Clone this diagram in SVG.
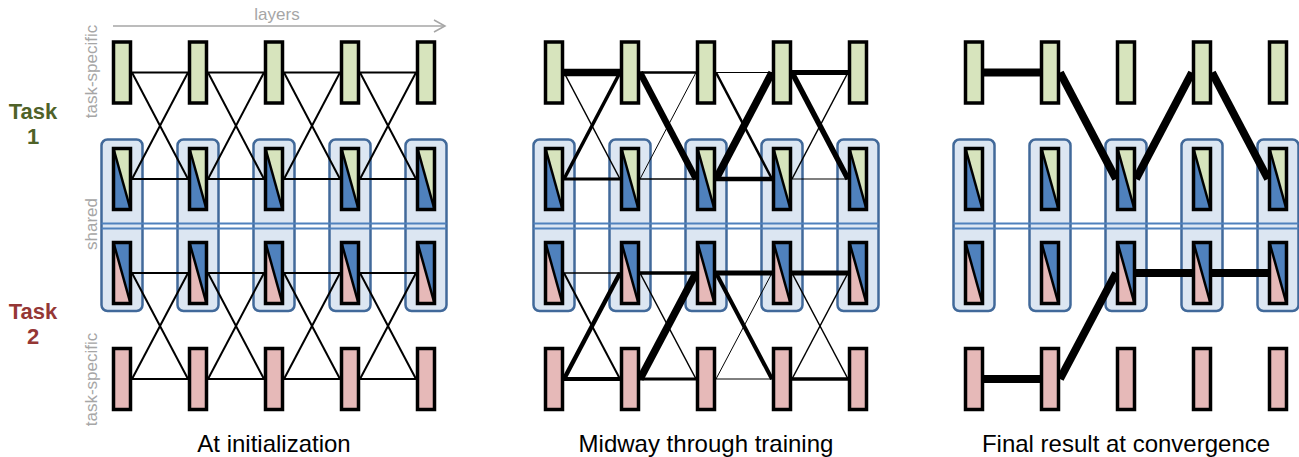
<svg xmlns="http://www.w3.org/2000/svg" width="1299" height="457" viewBox="0 0 1299 457">
  <style>
    .lbl { font-family: "Liberation Sans", Arial, sans-serif; fill: #A6A6A6; font-size: 17px; }
    .task { font-family: "Liberation Sans", Arial, sans-serif; font-weight: bold; font-size: 22px; text-anchor: middle; }
    .cap { font-family: "Liberation Sans", Arial, sans-serif; font-size: 24px; fill: #000; text-anchor: middle; }
    .box { fill: #DCE6F2; stroke: #41699A; stroke-width: 2.5; }
    .split { stroke: #4F81BD; stroke-width: 1.8; fill: none; }
    .edge { stroke: #000; fill: none; stroke-linecap: butt; }
    .p1 .edge { stroke-width: 2; }
    .p3 .edge { stroke-width: 8; }
    .outline { fill: none; stroke: #000; stroke-width: 3.5; }
  </style>
  <defs>
    <!-- task-specific layer blocks -->
    <g id="specGreen">
      <rect x="-8.5" y="-30.5" width="17" height="61" fill="#D7E4BD" stroke="#000" stroke-width="3.5"/>
    </g>
    <g id="specPink">
      <rect x="-8.5" y="-30.5" width="17" height="61" fill="#E6B9B8" stroke="#000" stroke-width="3.5"/>
    </g>
    <!-- shared layer blocks: task colour in the upper-right half, shared blue in the lower-left -->
    <g id="sharedGreen">
      <polygon points="-8.5,-30.5 -8.5,30.5 8.5,30.5" fill="#4F81BD"/>
      <polygon points="-8.5,-30.5 8.5,-30.5 8.5,30.5" fill="#D7E4BD"/>
      <line x1="-8.5" y1="-30.5" x2="8.5" y2="30.5" stroke="#000" stroke-width="2.5"/>
      <rect class="outline" x="-8.5" y="-30.5" width="17" height="61"/>
    </g>
    <g id="sharedPink">
      <polygon points="-8.5,-30.5 -8.5,30.5 8.5,30.5" fill="#E6B9B8"/>
      <polygon points="-8.5,-30.5 8.5,-30.5 8.5,30.5" fill="#4F81BD"/>
      <line x1="-8.5" y1="-30.5" x2="8.5" y2="30.5" stroke="#000" stroke-width="2.5"/>
      <rect class="outline" x="-8.5" y="-30.5" width="17" height="61"/>
    </g>
    <rect id="column" class="box" x="-20.5" y="139.5" width="41" height="171.5" rx="6"/>
  </defs>

  <!-- axis and side labels -->
  <g id="labels">
    <text class="lbl" x="277" y="20" text-anchor="middle">layers</text>
    <g stroke="#A6A6A6" stroke-width="1.5" fill="none">
      <line x1="113" y1="26" x2="444" y2="26"/>
      <polyline points="434,20 445,26 434,32"/>
    </g>
    <text class="lbl" text-anchor="middle" transform="translate(97,71.5) rotate(-90)">task-specific</text>
    <text class="lbl" text-anchor="middle" transform="translate(97,224) rotate(-90)">shared</text>
    <text class="lbl" text-anchor="middle" transform="translate(97,379.5) rotate(-90)">task-specific</text>
    <text class="task" fill="#4F6228"><tspan x="33" y="118.5">Task</tspan><tspan x="33" y="143.5">1</tspan></text>
    <text class="task" fill="#953735"><tspan x="33" y="318.5">Task</tspan><tspan x="33" y="344">2</tspan></text>
    <text class="cap" x="274" y="452">At initialization</text>
    <text class="cap" x="706" y="452">Midway through training</text>
    <text class="cap" x="1126" y="452">Final result at convergence</text>
  </g>

  <!-- shared columns with the split between the two task halves -->
  <g id="shared-columns">
    <use href="#column" x="122"/><use href="#column" x="198"/><use href="#column" x="274"/><use href="#column" x="350"/><use href="#column" x="426"/>
    <use href="#column" x="554"/><use href="#column" x="630"/><use href="#column" x="706"/><use href="#column" x="782"/><use href="#column" x="858"/>
    <use href="#column" x="974"/><use href="#column" x="1050"/><use href="#column" x="1126"/><use href="#column" x="1202"/><use href="#column" x="1278"/>
    <path class="split" d="M101.5 223.5H446.5M101.5 228.5H446.5"/>
    <path class="split" d="M533.5 223.5H878.5M533.5 228.5H878.5"/>
    <path class="split" d="M953.5 223.5H1298.5M953.5 228.5H1298.5"/>
  </g>

  <!-- connectors -->
  <g id="connectors">
    <g class="p1">
      <!-- task 1 -->
      <line class="edge" x1="132" y1="72.5" x2="188" y2="72.5"/><line class="edge" x1="132" y1="72.5" x2="188" y2="179"/><line class="edge" x1="132" y1="179" x2="188" y2="72.5"/><line class="edge" x1="132" y1="179" x2="188" y2="179"/>
      <line class="edge" x1="208" y1="72.5" x2="264" y2="72.5"/><line class="edge" x1="208" y1="72.5" x2="264" y2="179"/><line class="edge" x1="208" y1="179" x2="264" y2="72.5"/><line class="edge" x1="208" y1="179" x2="264" y2="179"/>
      <line class="edge" x1="284" y1="72.5" x2="340" y2="72.5"/><line class="edge" x1="284" y1="72.5" x2="340" y2="179"/><line class="edge" x1="284" y1="179" x2="340" y2="72.5"/><line class="edge" x1="284" y1="179" x2="340" y2="179"/>
      <line class="edge" x1="360" y1="72.5" x2="416" y2="72.5"/><line class="edge" x1="360" y1="72.5" x2="416" y2="179"/><line class="edge" x1="360" y1="179" x2="416" y2="72.5"/><line class="edge" x1="360" y1="179" x2="416" y2="179"/>
      <!-- task 2 -->
      <line class="edge" x1="132" y1="273" x2="188" y2="273"/><line class="edge" x1="132" y1="273" x2="188" y2="379"/><line class="edge" x1="132" y1="379" x2="188" y2="273"/><line class="edge" x1="132" y1="379" x2="188" y2="379"/>
      <line class="edge" x1="208" y1="273" x2="264" y2="273"/><line class="edge" x1="208" y1="273" x2="264" y2="379"/><line class="edge" x1="208" y1="379" x2="264" y2="273"/><line class="edge" x1="208" y1="379" x2="264" y2="379"/>
      <line class="edge" x1="284" y1="273" x2="340" y2="273"/><line class="edge" x1="284" y1="273" x2="340" y2="379"/><line class="edge" x1="284" y1="379" x2="340" y2="273"/><line class="edge" x1="284" y1="379" x2="340" y2="379"/>
      <line class="edge" x1="360" y1="273" x2="416" y2="273"/><line class="edge" x1="360" y1="273" x2="416" y2="379"/><line class="edge" x1="360" y1="379" x2="416" y2="273"/><line class="edge" x1="360" y1="379" x2="416" y2="379"/>
    </g>
    <g class="p2">
      <!-- task 1, weighted by learned routing -->
      <line class="edge" x1="564" y1="72.5" x2="620" y2="72.5" stroke-width="7.5"/>
      <line class="edge" x1="564" y1="72.5" x2="620" y2="179" stroke-width="1.5"/>
      <line class="edge" x1="564" y1="179" x2="620" y2="72.5" stroke-width="3.5"/>
      <line class="edge" x1="564" y1="179" x2="620" y2="179" stroke-width="3"/>
      <line class="edge" x1="640" y1="72.5" x2="696" y2="72.5" stroke-width="2.5"/>
      <line class="edge" x1="640" y1="72.5" x2="696" y2="179" stroke-width="6.5"/>
      <line class="edge" x1="640" y1="179" x2="696" y2="72.5" stroke-width="1"/>
      <line class="edge" x1="640" y1="179" x2="696" y2="179" stroke-width="1.5"/>
      <line class="edge" x1="716" y1="72.5" x2="772" y2="72.5" stroke-width="1"/>
      <line class="edge" x1="716" y1="72.5" x2="772" y2="179" stroke-width="2.5"/>
      <line class="edge" x1="716" y1="179" x2="772" y2="72.5" stroke-width="7.5"/>
      <line class="edge" x1="716" y1="179" x2="772" y2="179" stroke-width="4.5"/>
      <line class="edge" x1="792" y1="72.5" x2="848" y2="72.5" stroke-width="5"/>
      <line class="edge" x1="792" y1="72.5" x2="848" y2="179" stroke-width="5.5"/>
      <line class="edge" x1="792" y1="179" x2="848" y2="72.5" stroke-width="1.5"/>
      <line class="edge" x1="792" y1="179" x2="848" y2="179" stroke-width="1.2"/>
      <!-- task 2 -->
      <line class="edge" x1="564" y1="273" x2="620" y2="273" stroke-width="1.5"/>
      <line class="edge" x1="564" y1="273" x2="620" y2="379" stroke-width="2"/>
      <line class="edge" x1="564" y1="379" x2="620" y2="273" stroke-width="4.5"/>
      <line class="edge" x1="564" y1="379" x2="620" y2="379" stroke-width="4"/>
      <line class="edge" x1="640" y1="273" x2="696" y2="273" stroke-width="3.5"/>
      <line class="edge" x1="640" y1="273" x2="696" y2="379" stroke-width="1.5"/>
      <line class="edge" x1="640" y1="379" x2="696" y2="273" stroke-width="7.5"/>
      <line class="edge" x1="640" y1="379" x2="696" y2="379" stroke-width="3"/>
      <line class="edge" x1="716" y1="273" x2="772" y2="273" stroke-width="5"/>
      <line class="edge" x1="716" y1="273" x2="772" y2="379" stroke-width="4"/>
      <line class="edge" x1="716" y1="379" x2="772" y2="273" stroke-width="1"/>
      <line class="edge" x1="716" y1="379" x2="772" y2="379" stroke-width="1"/>
      <line class="edge" x1="792" y1="273" x2="848" y2="273" stroke-width="5"/>
      <line class="edge" x1="792" y1="273" x2="848" y2="379" stroke-width="1.5"/>
      <line class="edge" x1="792" y1="379" x2="848" y2="273" stroke-width="1.5"/>
      <line class="edge" x1="792" y1="379" x2="848" y2="379" stroke-width="3.5"/>
    </g>
    <g class="p3">
      <!-- converged routes -->
      <line class="edge" x1="984" y1="72.5" x2="1040" y2="72.5"/>
      <line class="edge" x1="1060" y1="72.5" x2="1116" y2="179"/>
      <line class="edge" x1="1136" y1="179" x2="1192" y2="72.5"/>
      <line class="edge" x1="1212" y1="72.5" x2="1268" y2="179"/>
      <line class="edge" x1="984" y1="379" x2="1040" y2="379"/>
      <line class="edge" x1="1060" y1="379" x2="1116" y2="273"/>
      <line class="edge" x1="1136" y1="273" x2="1192" y2="273"/>
      <line class="edge" x1="1212" y1="273" x2="1268" y2="273"/>
    </g>
  </g>

  <!-- nodes: panel 1 -->
  <g id="p1-t1-l1" transform="translate(122,72.5)"><use href="#specGreen"/></g>
  <g id="p1-t1-l2" transform="translate(198,72.5)"><use href="#specGreen"/></g>
  <g id="p1-t1-l3" transform="translate(274,72.5)"><use href="#specGreen"/></g>
  <g id="p1-t1-l4" transform="translate(350,72.5)"><use href="#specGreen"/></g>
  <g id="p1-t1-l5" transform="translate(426,72.5)"><use href="#specGreen"/></g>
  <g id="p1-s1-l1" transform="translate(122,179)"><use href="#sharedGreen"/></g>
  <g id="p1-s1-l2" transform="translate(198,179)"><use href="#sharedGreen"/></g>
  <g id="p1-s1-l3" transform="translate(274,179)"><use href="#sharedGreen"/></g>
  <g id="p1-s1-l4" transform="translate(350,179)"><use href="#sharedGreen"/></g>
  <g id="p1-s1-l5" transform="translate(426,179)"><use href="#sharedGreen"/></g>
  <g id="p1-s2-l1" transform="translate(122,273)"><use href="#sharedPink"/></g>
  <g id="p1-s2-l2" transform="translate(198,273)"><use href="#sharedPink"/></g>
  <g id="p1-s2-l3" transform="translate(274,273)"><use href="#sharedPink"/></g>
  <g id="p1-s2-l4" transform="translate(350,273)"><use href="#sharedPink"/></g>
  <g id="p1-s2-l5" transform="translate(426,273)"><use href="#sharedPink"/></g>
  <g id="p1-t2-l1" transform="translate(122,379)"><use href="#specPink"/></g>
  <g id="p1-t2-l2" transform="translate(198,379)"><use href="#specPink"/></g>
  <g id="p1-t2-l3" transform="translate(274,379)"><use href="#specPink"/></g>
  <g id="p1-t2-l4" transform="translate(350,379)"><use href="#specPink"/></g>
  <g id="p1-t2-l5" transform="translate(426,379)"><use href="#specPink"/></g>

  <!-- nodes: panel 2 -->
  <g id="p2-t1-l1" transform="translate(554,72.5)"><use href="#specGreen"/></g>
  <g id="p2-t1-l2" transform="translate(630,72.5)"><use href="#specGreen"/></g>
  <g id="p2-t1-l3" transform="translate(706,72.5)"><use href="#specGreen"/></g>
  <g id="p2-t1-l4" transform="translate(782,72.5)"><use href="#specGreen"/></g>
  <g id="p2-t1-l5" transform="translate(858,72.5)"><use href="#specGreen"/></g>
  <g id="p2-s1-l1" transform="translate(554,179)"><use href="#sharedGreen"/></g>
  <g id="p2-s1-l2" transform="translate(630,179)"><use href="#sharedGreen"/></g>
  <g id="p2-s1-l3" transform="translate(706,179)"><use href="#sharedGreen"/></g>
  <g id="p2-s1-l4" transform="translate(782,179)"><use href="#sharedGreen"/></g>
  <g id="p2-s1-l5" transform="translate(858,179)"><use href="#sharedGreen"/></g>
  <g id="p2-s2-l1" transform="translate(554,273)"><use href="#sharedPink"/></g>
  <g id="p2-s2-l2" transform="translate(630,273)"><use href="#sharedPink"/></g>
  <g id="p2-s2-l3" transform="translate(706,273)"><use href="#sharedPink"/></g>
  <g id="p2-s2-l4" transform="translate(782,273)"><use href="#sharedPink"/></g>
  <g id="p2-s2-l5" transform="translate(858,273)"><use href="#sharedPink"/></g>
  <g id="p2-t2-l1" transform="translate(554,379)"><use href="#specPink"/></g>
  <g id="p2-t2-l2" transform="translate(630,379)"><use href="#specPink"/></g>
  <g id="p2-t2-l3" transform="translate(706,379)"><use href="#specPink"/></g>
  <g id="p2-t2-l4" transform="translate(782,379)"><use href="#specPink"/></g>
  <g id="p2-t2-l5" transform="translate(858,379)"><use href="#specPink"/></g>

  <!-- nodes: panel 3 -->
  <g id="p3-t1-l1" transform="translate(974,72.5)"><use href="#specGreen"/></g>
  <g id="p3-t1-l2" transform="translate(1050,72.5)"><use href="#specGreen"/></g>
  <g id="p3-t1-l3" transform="translate(1126,72.5)"><use href="#specGreen"/></g>
  <g id="p3-t1-l4" transform="translate(1202,72.5)"><use href="#specGreen"/></g>
  <g id="p3-t1-l5" transform="translate(1278,72.5)"><use href="#specGreen"/></g>
  <g id="p3-s1-l1" transform="translate(974,179)"><use href="#sharedGreen"/></g>
  <g id="p3-s1-l2" transform="translate(1050,179)"><use href="#sharedGreen"/></g>
  <g id="p3-s1-l3" transform="translate(1126,179)"><use href="#sharedGreen"/></g>
  <g id="p3-s1-l4" transform="translate(1202,179)"><use href="#sharedGreen"/></g>
  <g id="p3-s1-l5" transform="translate(1278,179)"><use href="#sharedGreen"/></g>
  <g id="p3-s2-l1" transform="translate(974,273)"><use href="#sharedPink"/></g>
  <g id="p3-s2-l2" transform="translate(1050,273)"><use href="#sharedPink"/></g>
  <g id="p3-s2-l3" transform="translate(1126,273)"><use href="#sharedPink"/></g>
  <g id="p3-s2-l4" transform="translate(1202,273)"><use href="#sharedPink"/></g>
  <g id="p3-s2-l5" transform="translate(1278,273)"><use href="#sharedPink"/></g>
  <g id="p3-t2-l1" transform="translate(974,379)"><use href="#specPink"/></g>
  <g id="p3-t2-l2" transform="translate(1050,379)"><use href="#specPink"/></g>
  <g id="p3-t2-l3" transform="translate(1126,379)"><use href="#specPink"/></g>
  <g id="p3-t2-l4" transform="translate(1202,379)"><use href="#specPink"/></g>
  <g id="p3-t2-l5" transform="translate(1278,379)"><use href="#specPink"/></g>
</svg>
